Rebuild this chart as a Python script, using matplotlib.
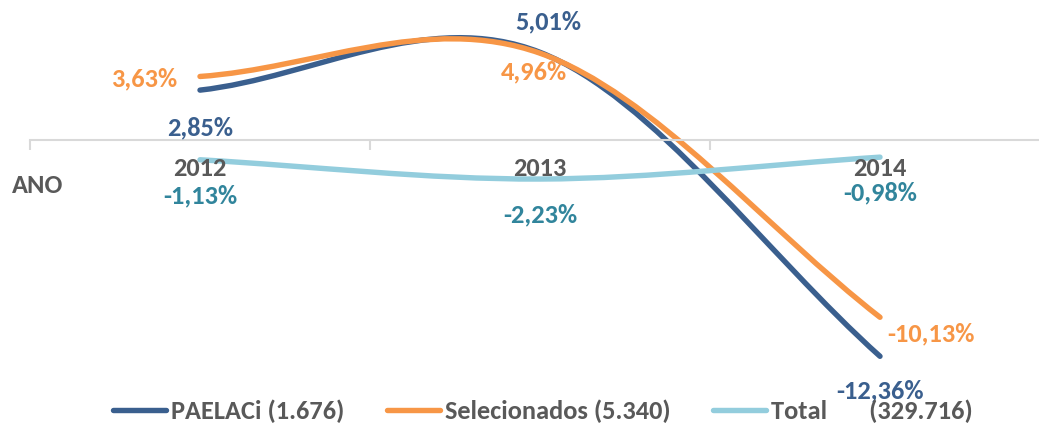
import matplotlib
matplotlib.use('Agg')
from matplotlib import pyplot as plt
from matplotlib.path import Path
from matplotlib.patches import PathPatch
from matplotlib.lines import Line2D

plt.rcParams['font.family'] = ['Carlito', 'DejaVu Sans']
plt.rcParams['font.weight'] = 'bold'

years = ['2012', '2013', '2014']
paelaci = [2.85, 5.01, -12.36]
selecionados = [3.63, 4.96, -10.13]
total = [-1.13, -2.23, -0.98]
series_names = ['PAELACi (1.676)', 'Selecionados (5.340)',
                'Total       (329.716)']

C_DARK = '#3A5F8E'
C_ORANGE = '#F79646'
C_LIGHT = '#93CDDD'
C_TEAL = '#31859C'
C_GRAY = '#595959'
FS = 19


def smooth_path(values):
    """Excel-like smoothed line as cubic bezier segments."""
    pts = [(float(i), v) for i, v in enumerate(values)]
    n = len(pts)
    tangents = []
    for i in range(n):
        if i == 0:
            a, b = pts[0], pts[1]
            tangents.append((b[0] - a[0], b[1] - a[1]))
        elif i == n - 1:
            a, b = pts[-2], pts[-1]
            tangents.append((b[0] - a[0], b[1] - a[1]))
        else:
            a, b = pts[i - 1], pts[i + 1]
            tangents.append(((b[0] - a[0]) / 2, (b[1] - a[1]) / 2))
    verts = [pts[0]]
    codes = [Path.MOVETO]
    for i in range(n - 1):
        p0, p1 = pts[i], pts[i + 1]
        m0, m1 = tangents[i], tangents[i + 1]
        verts += [(p0[0] + m0[0] / 3, p0[1] + m0[1] / 3),
                  (p1[0] - m1[0] / 3, p1[1] - m1[1] / 3),
                  p1]
        codes += [Path.CURVE4] * 3
    return Path(verts, codes)


fig = plt.figure(figsize=(10.39, 4.24), dpi=100)
ax = fig.add_axes([30 / 1039, 39 / 424, 1020 / 1039, 385 / 424])
ax.set_xlim(-0.5, 2.5)
ax.set_ylim(-14, 8)

for vals, color in [(paelaci, C_DARK), (selecionados, C_ORANGE),
                    (total, C_LIGHT)]:
    patch = PathPatch(smooth_path(vals), fill=False, edgecolor=color,
                      linewidth=3.9, capstyle='round', joinstyle='round',
                      clip_on=False)
    ax.add_patch(patch)

# axis at zero
for s in ['top', 'right', 'left']:
    ax.spines[s].set_visible(False)
ax.spines['bottom'].set_position(('data', 0))
ax.spines['bottom'].set_color('#D9D9D9')
ax.spines['bottom'].set_linewidth(1.5)
ax.set_yticks([])
ax.set_xticks(range(len(years)))
ax.set_xticklabels(years, fontsize=FS, color=C_GRAY, fontweight='bold')
ax.tick_params(axis='x', which='major', length=0, pad=12)
ax.set_xticks([-0.5, 0.5, 1.5, 2.5], minor=True)
ax.tick_params(axis='x', which='minor', length=7, width=1.5,
               color='#D9D9D9', direction='out')

fig.text(12 / 1039, 1 - 186 / 424, 'ANO', fontsize=FS, color=C_GRAY,
         fontweight='bold', ha='left', va='center')


def label(i, v, color, dx, dy, ha='center'):
    txt = f'{v:.2f}%'.replace('.', ',')
    ax.annotate(txt, (i, v), xytext=(dx, dy), textcoords='offset pixels',
                ha=ha, va='center', fontsize=FS, color=color,
                fontweight='bold', annotation_clip=False)


label(0, paelaci[0], C_DARK, 0, -38)
label(1, paelaci[1], C_DARK, 8, 30)
label(2, paelaci[2], C_DARK, 0, -35)
label(0, selecionados[0], C_ORANGE, -23, -2, ha='right')
label(1, selecionados[1], C_ORANGE, -6, -19)
label(2, selecionados[2], C_ORANGE, 7, -17, ha='left')
for i, v in enumerate(total):
    label(i, v, C_TEAL, 0, -36)

handles = [Line2D([], [], color=c, linewidth=3.9, solid_capstyle='round')
           for c in (C_DARK, C_ORANGE, C_LIGHT)]
leg = fig.legend(handles, series_names, loc='center', ncol=3,
                 bbox_to_anchor=(543 / 1039, 13 / 424), frameon=False,
                 prop={'size': FS, 'weight': 'bold'}, handlelength=2.0,
                 handletextpad=0.2, columnspacing=1.6, labelcolor=C_GRAY)

fig.savefig('out.png', dpi=100)
